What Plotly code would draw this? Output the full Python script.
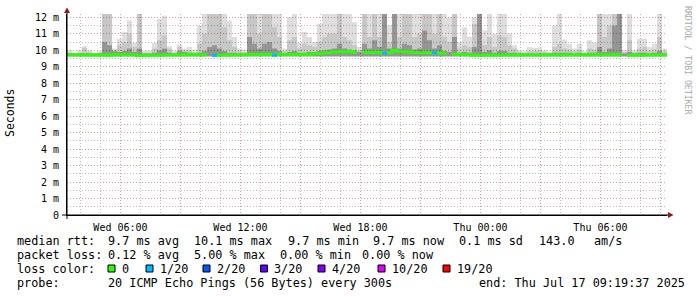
import plotly.graph_objects as go
import pandas as pd

# ---------------- data ----------------
start_time = "2025-07-16 03:19:37"
end_time = "2025-07-17 09:19:37"
bin_minutes = 15

# upper edge of the lightest smoke band (max ping), ms
smoke_max = [
    10.0, 9.85, 9.95, 10.25, 10.0, 9.85, 9.95, 12.5, 12.5, 10.1, 10.7, 11.1,
    11.8, 10.45, 12.5, 9.95, 9.95, 10.45, 11.9, 12.1, 10.25, 9.95, 10.35, 10.1,
    10.2, 10.05, 11.5, 12.5, 12.5, 12.5, 12.5, 12.5, 11.8, 10.8, 10.1, 10.05,
    12.5, 12.5, 12.5, 12.5, 12.5, 12.5, 12.5, 10.1, 12.0, 12.3, 10.45, 11.1,
    10.8, 10.5, 11.6, 12.5, 12.5, 12.5, 12.5, 12.5, 12.5, 11.7, 10.2, 12.5,
    12.5, 12.5, 12.5, 12.5, 11.5, 12.5, 12.5, 12.5, 12.5, 12.5, 12.3, 12.5,
    12.5, 12.4, 12.3, 12.3, 12.0, 12.5, 10.5, 11.4, 10.8, 12.0, 12.5, 11.2,
    12.5, 11.0, 12.5, 12.5, 11.0, 10.3, 10.0, 9.95, 10.2, 10.15, 10.15, 10.0,
    9.9, 11.5, 12.3, 10.65, 10.4, 10.1, 10.4, 9.95, 10.6, 10.45, 12.5, 12.5,
    12.5, 12.5, 12.5, 10.0, 12.5, 10.0, 10.7, 10.7, 10.2, 10.4, 12.5, 10.1,
]

# upper edge of the medium-grey band, ms
smoke_mid = [
    9.85, 9.8, 9.85, 10.15, 9.9, 9.8, 9.85, 12.5, 12.5, 10.05, 10.3, 10.5,
    11.0, 10.2, 12.5, 9.85, 9.85, 10.1, 10.6, 10.9, 10.1, 9.85, 10.2, 10.0,
    10.0, 9.9, 10.4, 11.0, 12.5, 12.5, 12.5, 11.4, 10.6, 10.2, 9.95, 9.9,
    12.5, 12.5, 11.0, 12.5, 12.5, 11.4, 10.8, 9.95, 10.6, 10.8, 10.1, 10.4,
    10.3, 10.2, 10.5, 10.8, 11.0, 11.0, 12.5, 10.8, 10.6, 10.3, 10.0, 12.5,
    10.8, 12.5, 10.8, 12.5, 10.5, 12.5, 10.8, 12.5, 12.5, 10.8, 11.0, 12.5,
    12.5, 11.0, 12.3, 10.8, 10.5, 12.5, 10.1, 10.3, 10.2, 11.6, 12.5, 10.3,
    10.8, 10.2, 10.9, 10.8, 10.3, 10.1, 9.9, 9.85, 9.95, 9.95, 9.95, 9.9,
    9.85, 10.2, 10.4, 10.1, 10.05, 9.95, 10.05, 9.85, 10.1, 10.05, 12.5, 10.8,
    11.5, 12.5, 12.5, 9.9, 10.6, 9.9, 10.1, 10.2, 10.0, 10.05, 10.8, 9.95,
]

# upper edge of the dark-grey band, ms
smoke_dark = [
    9.8, 9.8, 9.8, 9.8, 9.8, 9.8, 9.8, 10.5, 10.3, 9.95, 9.9, 9.95,
    10.1, 9.9, 10.1, 9.8, 9.8, 9.85, 10.0, 10.1, 9.85, 9.8, 9.95, 9.9,
    9.85, 9.8, 9.85, 9.95, 10.2, 10.3, 10.1, 9.95, 9.85, 9.85, 9.8, 9.8,
    10.8, 10.4, 10.1, 10.4, 10.5, 10.1, 9.95, 9.8, 9.9, 9.95, 9.85, 9.85,
    9.9, 9.9, 9.95, 10.0, 10.05, 10.1, 10.4, 10.1, 10.05, 10.0, 9.9, 10.4,
    10.1, 10.6, 10.2, 12.5, 10.1, 12.5, 10.1, 10.4, 10.3, 10.05, 10.1, 11.2,
    10.6, 10.1, 10.3, 9.95, 9.9, 10.8, 9.85, 9.9, 9.85, 10.2, 12.5, 9.9,
    10.0, 9.85, 9.95, 9.95, 9.85, 9.85, 9.8, 9.8, 9.8, 9.8, 9.8, 9.8,
    9.8, 9.85, 9.85, 9.85, 9.85, 9.8, 9.85, 9.8, 9.85, 9.85, 10.2, 9.9,
    10.1, 11.5, 12.5, 9.8, 9.9, 9.8, 9.85, 9.85, 9.8, 9.85, 9.95, 9.8,
]

# median rtt per step, ms (None = no data)
median_rtt = [
    9.72, 9.72, 9.68, 9.72, 9.72, 9.70, 9.72, 9.72, 9.70, 9.74, 9.72, 9.72,
    9.72, 9.72, 9.68, 9.70, 9.72, 9.68, 9.72, 9.72, 9.72, 9.70, 9.72, 9.74,
    9.74, 9.72, 9.70, 9.72, None, 9.70, 9.72, 9.68, 9.72, 9.72, 9.68, 9.72,
    9.74, 9.72, 9.72, 9.72, 9.74, 9.70, 9.72, 9.72, 9.72, 9.70, 9.72, 9.74,
    9.74, 9.78, 9.80, 9.84, 9.86, 9.90, 9.92, 9.94, 9.92, 9.88, None, 9.86,
    9.86, 9.90, 9.88, 9.82, 9.86, 9.98, 9.92, 9.90, 9.90, 9.86, 9.86, 9.88,
    9.86, 9.84, 9.84, 9.82, None, 9.76, 9.74, 9.72, 9.72, 9.70, 9.72, 9.70,
    9.70, 9.72, 9.70, 9.70, 9.72, 9.72, 9.70, 9.72, 9.72, 9.72, 9.72, 9.72,
    9.70, 9.72, 9.72, 9.72, 9.72, 9.72, 9.72, 9.70, 9.72, 9.72, 9.72, 9.72,
    9.72, 9.72, 9.72, None, 9.70, 9.72, 9.70, 9.72, 9.70, 9.72, 9.72, 9.72,
]

smoke_floor = 9.62
loss_bins = [29, 41, 63, 73]          # steps with packet loss
loss_counts = [1, 1, 1, 1]             # lost pings (of 20) in those steps

loss_labels = ["0", "1/20", "2/20", "3/20", "4/20", "10/20", "19/20"]
loss_colors = ["#26ff00", "#00b8ff", "#0059ff", "#5e00ff", "#7e00ff", "#dd00ff", "#ff0000"]
loss_levels = [0, 1, 2, 3, 4, 10, 19]

y_unit_suffix = " m"
y_zero_label = "0"
x_tick_format = "%a %H:%M"

stats_line1 = ["median rtt:", "9.7 ms avg", "10.1 ms max", "9.7 ms min", "9.7 ms now",
               "0.1 ms sd", "143.0", "am/s"]
stats_line2 = ["packet loss:", "0.12 % avg", "5.00 % max", "0.00 % min", "0.00 % now"]
probe_text = "20 ICMP Echo Pings (56 Bytes) every 300s"
end_text = "end: Thu Jul 17 09:19:37 2025"

# ---------------- layout geometry ----------------
W, H = 697, 297
L, R, T, B = 67, 30, 14, 82
PW, PH = W - L - R, H - T - B
Y_TOP = 12.2
MONO = "DejaVu Sans Mono"
MAJOR_GRID = "#e29a9a"
MINOR_GRID = "#bdbdbd"
DASH = "1px,2px"


def px(x):
    return (x - L) / PW


def py(y):
    return (T + PH - y) / PH


edges = pd.date_range(start_time, periods=len(smoke_max) + 1, freq=f"{bin_minutes}min")

fig = go.Figure()

# smoke bands (translucent so the grid shows through, as in rrdtool)
for top, col in [(smoke_max, "rgba(0,0,0,0.13)"), (smoke_mid, "rgba(0,0,0,0.10)"),
                 (smoke_dark, "rgba(0,0,0,0.25)")]:
    fig.add_trace(go.Scatter(x=edges, y=[smoke_floor] * len(edges), mode="lines",
                             line=dict(width=0, shape="hv"), hoverinfo="skip", showlegend=False))
    fig.add_trace(go.Scatter(x=edges, y=list(top) + [top[-1]], mode="lines", fill="tonexty",
                             fillcolor=col, line=dict(width=0, shape="hv"),
                             hoverinfo="skip", showlegend=False))

# median line as step segments
mx, my = [], []
for i, v in enumerate(median_rtt):
    if v is None:
        mx.append(None)
        my.append(None)
        continue
    mx += [edges[i], edges[i + 1]]
    my += [v, v]
fig.add_trace(go.Scatter(x=mx, y=my, mode="lines", line=dict(color=loss_colors[0], width=3),
                         hoverinfo="skip", showlegend=False))

for b, c in zip(loss_bins, loss_counts):
    col = loss_colors[max(i for i, lv in enumerate(loss_levels) if lv <= c)]
    fig.add_trace(go.Scatter(x=[edges[b], edges[b + 1]], y=[median_rtt[b], median_rtt[b]],
                             mode="lines", line=dict(color=col, width=3),
                             hoverinfo="skip", showlegend=False))

fig.update_layout(
    width=W, height=H, margin=dict(l=L, r=R, t=T, b=B),
    paper_bgcolor="white", plot_bgcolor="white",
    font=dict(family=MONO, size=10, color="#000"),
    showlegend=False,
    xaxis=dict(type="date", range=[start_time, end_time], tickmode="linear",
               tick0="2025-07-16 00:00:00", dtick=3 * 3600000, ticklabelstep=2,
               tickformat=x_tick_format,
               showgrid=True, gridcolor=MAJOR_GRID, griddash=DASH, gridwidth=1,
               minor=dict(tickmode="linear", dtick=3600000, tick0="2025-07-16 00:00:00",
                          showgrid=True, gridcolor=MINOR_GRID, griddash=DASH, gridwidth=1),
               showline=True, linecolor="#000", linewidth=1, zeroline=False,
               ticks="", tickfont=dict(family=MONO, size=10, color="#000"),
               ticklabelstandoff=3, fixedrange=True),
    yaxis=dict(range=[0, Y_TOP], tickmode="linear", tick0=0, dtick=1,
               ticksuffix=y_unit_suffix, labelalias={"0" + y_unit_suffix: y_zero_label},
               showgrid=True, gridcolor=MAJOR_GRID, griddash=DASH, gridwidth=1,
               minor=dict(tickmode="linear", dtick=0.5, tick0=0, showgrid=True,
                          gridcolor=MINOR_GRID, griddash=DASH, gridwidth=1),
               showline=True, linecolor="#000", linewidth=1, zeroline=False,
               ticks="", tickfont=dict(family=MONO, size=10, color="#000"),
               ticklabelstandoff=5, fixedrange=True),
)

shapes = []
# axis extensions and arrow heads
shapes.append(dict(type="line", xref="paper", yref="paper", x0=px(62), x1=px(669), y0=0, y1=0,
                   line=dict(color="#000", width=1)))
shapes.append(dict(type="line", xref="paper", yref="paper", x0=0, x1=0, y0=py(219), y1=py(11),
                   line=dict(color="#000", width=1)))
shapes.append(dict(type="path", xref="paper", yref="paper",
                   path=f"M {px(668)},{py(212)} L {px(673.5)},{py(215)} L {px(668)},{py(218)} Z",
                   fillcolor="#8b1a1a", line=dict(width=0)))
shapes.append(dict(type="path", xref="paper", yref="paper",
                   path=f"M {px(64)},{py(13)} L {px(67)},{py(7.5)} L {px(70)},{py(13)} Z",
                   fillcolor="#8b1a1a", line=dict(width=0)))

annotations = []


def txt(x, y, s, size=11.8, color="#000", angle=0, xanchor="left"):
    annotations.append(dict(xref="paper", yref="paper", x=px(x), y=py(y), text=s,
                            showarrow=False, xanchor=xanchor, yanchor="middle",
                            textangle=angle, borderpad=0,
                            font=dict(family=MONO, size=size, color=color)))


# legend / stats text
l1_x = [16, 107, 192.5, 286.5, 372, 458, 538, 593]
for x, s in zip(l1_x, stats_line1):
    txt(x, 241, s)
l2_x = [16, 107, 192.5, 279, 361]
for x, s in zip(l2_x, stats_line2):
    txt(x, 255, s)
txt(16, 269, "loss color:")
sq_x = [108, 146, 203, 260.5, 318, 378, 443]
for x, lab, col in zip(sq_x, loss_labels, loss_colors):
    shapes.append(dict(type="rect", xref="paper", yref="paper", x0=px(x), x1=px(x + 7),
                       y0=py(272), y1=py(265), fillcolor=col, line=dict(color="#000", width=1)))
    txt(x + 12.5, 269, lab)
txt(16, 283, "probe:")
txt(107, 283, probe_text)
txt(478, 283, end_text)

# axis title and watermark
txt(10, 113, "Seconds", size=11.5, angle=-90, xanchor="center")
txt(688, 60, "RRDTOOL / TOBI OETIKER", size=8.2, color="#aaaaaa", angle=90, xanchor="center")

fig.update_layout(shapes=shapes, annotations=annotations)
for a in fig.layout.annotations:
    a.text = a.text.replace(" ", "\u00a0")

fig.write_html("out.html")
